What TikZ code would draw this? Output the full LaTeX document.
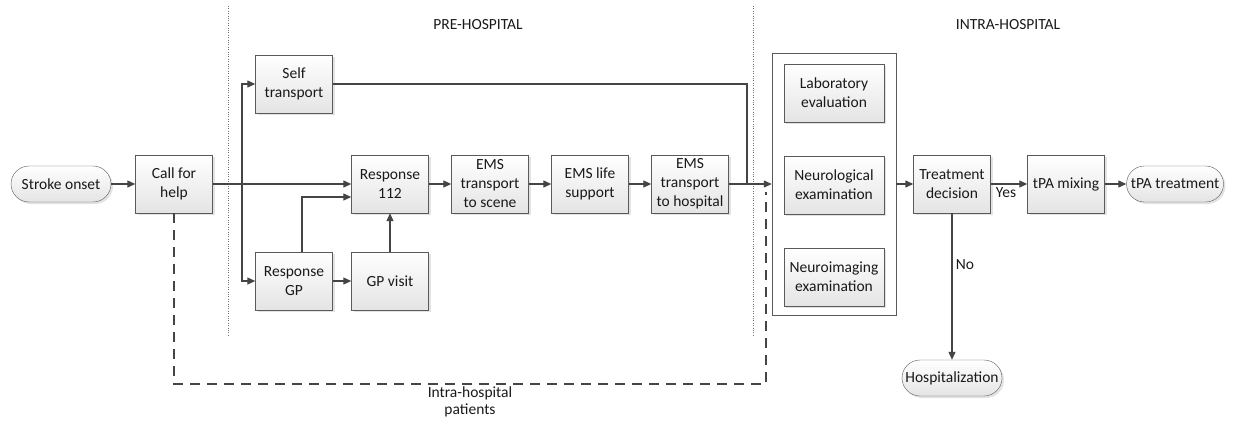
\documentclass[tikz,border=0pt]{standalone}
\usepackage{fontspec}
\setmainfont{Carlito}
\usetikzlibrary{arrows.meta,shadows}

\definecolor{lineclr}{HTML}{454545}
\definecolor{boxline}{HTML}{5A5A5A}
\definecolor{boxfill}{HTML}{E4E4E4}
\newcommand{\flowfont}{\fontsize{15.5}{19}\selectfont}

\tikzset{
    stepbox/.style={draw=boxline, thin, top color=white, bottom color=boxfill,
        minimum width=77pt, minimum height=58pt, inner sep=1pt, align=center,
        drop shadow={shadow xshift=2pt, shadow yshift=-2pt, fill=black!22}},
    terminal/.style={draw=boxline, thin, rounded corners=18pt, top color=white,
        bottom color=boxfill, minimum height=36pt, inner xsep=2pt, align=center,
        drop shadow={shadow xshift=2pt, shadow yshift=-2pt, fill=black!22}},
    flow/.style={draw=lineclr, line width=1.2pt, -{Triangle[length=8pt,width=7pt]}},
    plain/.style={draw=lineclr, line width=1.2pt},
    phase/.style={draw=black!55, dotted, thin},
}

\begin{document}
\begin{tikzpicture}[x=1pt, y=-1pt, font=\flowfont, text=black!90]
        \useasboundingbox (0,0) rectangle (1233,420);

        % phase borders
        \draw[phase] (228,6) -- (228,336);
        \draw[phase] (753,6) -- (753,336);
        \node (pre) at (478,25) {PRE-HOSPITAL};
        \node (intra-label) at (1008,25) {INTRA-HOSPITAL};

        % pre-hospital steps
        \node[terminal, minimum width=100pt] (onset) at (61,184) {Stroke onset};
        \node[stepbox] (call) at (174,184) {Call for\\help};
        \node[stepbox] (self) at (294,84) {Self\\transport};
        \node[stepbox] (r112) at (390,184) {Response\\112};
        \node[stepbox] (rgp) at (294,281) {Response\\GP};
        \node[stepbox] (gp) at (390,281) {GP visit};
        \node[stepbox] (scene) at (490,184) {EMS\\transport\\to scene};
        \node[stepbox] (life) at (590,184) {EMS life\\support};
        \node[stepbox] (tohosp) at (690,184) {EMS\\transport\\to hospital};

        % intra-hospital steps
        \node[draw=boxline, thin, fill=white, minimum width=124pt, minimum height=262pt] (intra) at (834,184) {};
        \foreach \name/\y/\txt in {lab/93/{Laboratory\\evaluation}, neuro/185/{Neurological\\examination}, img/277/{Neuroimaging\\examination}}{% inner boxes
            \node[stepbox, minimum width=100pt] (\name) at (834,\y) {\txt};
        }
        \node[stepbox] (treat) at (952,184) {Treatment\\decision};
        \node[stepbox] (mix) at (1066,184) {tPA mixing};
        \node[terminal, minimum width=97pt] (tpa) at (1175,184) {tPA treatment};
        \node[terminal, minimum width=100pt] (admit) at (952,378) {Hospitalization};

        % connectors
        \coordinate (split) at (242,184);
        \coordinate (merge) at (747,184);
        \coordinate (dashcorner) at (766,384);
        \coordinate (dashend) at (766,192);

        \draw[flow] (onset) -- (call);
        \draw[flow] (call) -- (r112);
        \draw[flow] (split) |- (self.west);
        \draw[flow] (split) |- (rgp.west);
        \draw[flow] ([xshift=8pt]rgp.north) |- ([yshift=-13pt]r112.west);
        \draw[flow] (rgp) -- (gp);
        \draw[flow] (gp) -- (r112);
        \draw[flow] (r112) -- (scene);
        \draw[flow] (scene) -- (life);
        \draw[flow] (life) -- (tohosp);
        \draw[flow] (tohosp) -- (intra);
        \draw[plain] (self.east) -| (merge);
        \draw[plain, dash pattern=on 10pt off 7pt] (call.south) |- (dashcorner) -- (dashend);
        \node[align=center, font=\fontsize{15.5}{17}\selectfont, inner sep=0pt] (dashlabel) at (470,402) {Intra-hospital\\patients};

        \draw[flow] (intra) -- (treat);
        \draw[flow] (treat) -- node[below, pos=0.42] (yes) {Yes} (mix);
        \draw[flow] (mix) -- (tpa);
        \draw[flow] (treat) -- node[right, pos=0.35] (no) {No} (admit);
    \end{tikzpicture}
\end{document}
